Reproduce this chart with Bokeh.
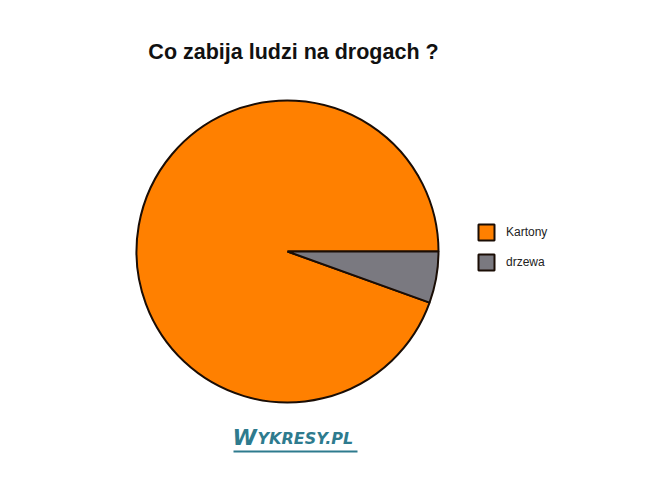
from math import pi
from bokeh.plotting import figure
from bokeh.models import Range1d, ColumnDataSource, Legend, LegendItem
from bokeh.core.properties import value
from bokeh.embed import file_html
from bokeh.resources import INLINE

categories = ["Kartony", "drzewa"]
shares = [94.5, 5.5]
colors = ["#FF8000", "#7A7980"]
title_text = "Co zabija ludzi na drogach ?"
watermark = "WYKRESY.PL"

W, H = 648, 468
p = figure(width=W, height=H, output_backend="svg", toolbar_location=None,
           x_range=Range1d(0, W), y_range=Range1d(0, H),
           min_border=0, outline_line_color=None)
p.axis.visible = False
p.grid.visible = False
p.background_fill_color = "white"
p.border_fill_color = "white"

total = sum(shares)
g = shares[1] / total * 2 * pi
starts = [0.0, -g]
ends = [2 * pi - g, 0.0]
src = ColumnDataSource(dict(cat=categories, start=starts, end=ends, color=colors))

cx, cy, r = 287, H - 251, 151
wedges = p.wedge(x=cx, y=cy, radius=r, start_angle="start", end_angle="end",
                 fill_color="color", line_color="#1a0d05", line_width=2, source=src)

items = [LegendItem(label=categories[i], renderers=[wedges], index=i) for i in range(2)]
legend = Legend(items=items, location=(476, H - 222 - 50), padding=0, margin=0, spacing=10,
                glyph_width=20, glyph_height=20, label_standoff=10,
                label_text_font="Liberation Sans", label_text_font_size="12px",
                label_text_color="#222222",
                border_line_alpha=0, background_fill_alpha=0)
p.add_layout(legend)

p.text(x=[293], y=[H - 51], text=[title_text], text_align="center",
       text_baseline="middle", text_font=value("Liberation Sans"),
       text_font_style="bold", text_font_size="21.5px", text_color="#111111")

p.text(x=[232], y=[H - 437], text=[watermark[0]], text_align="left",
       text_baseline="middle", text_font=value("DejaVu Sans"),
       text_font_style="bold italic", text_font_size="22px", text_color="#2E7B8E")
p.text(x=[257], y=[H - 438], text=[watermark[1:]], text_align="left",
       text_baseline="middle", text_font=value("DejaVu Sans"),
       text_font_style="bold italic", text_font_size="16px", text_color="#2E7B8E")
p.line(x=[233, 357], y=[H - 451] * 2, line_color="#2E7B8E", line_width=2)

open("out.html", "w").write(file_html(p, INLINE))
